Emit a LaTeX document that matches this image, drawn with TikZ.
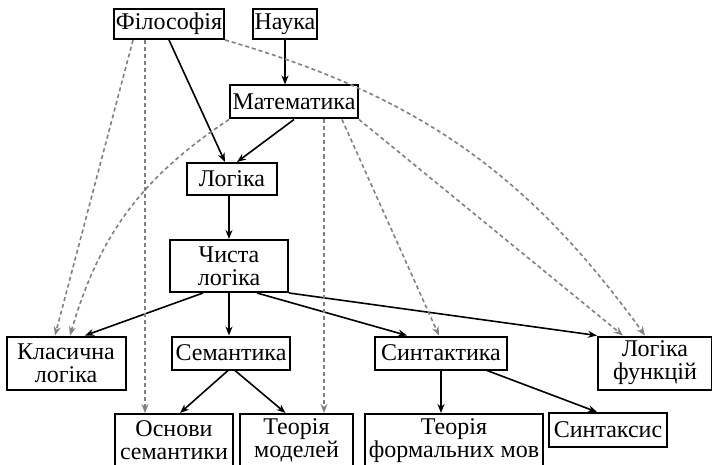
\documentclass[tikz,border=0pt]{standalone}
\usepackage{fontspec}
\setmainfont{Liberation Serif}
\usetikzlibrary{arrows.meta,calc}

\begin{document}
\begin{tikzpicture}[x=0.5pt, y=-0.5pt,
    box/.style={draw, line width=1pt, align=center, inner sep=1pt, minimum height=16.5pt},
    tall/.style={box, minimum height=26.5pt},
    link/.style={->, line width=0.8pt},
    hint/.style={->, gray, dash pattern=on 2pt off 1.5pt, line width=0.8pt},
    >={Stealth[length=4.5pt, width=3.5pt]}]
  \useasboundingbox (0,0) rectangle (712,465);
  \clip (0,0) rectangle (712,465);
  \fontsize{12}{11.5}\selectfont
  \node[box, minimum width=54pt, minimum height=15pt] (fil) at (169,24) {Філософія};
  \node[box, minimum width=28pt, minimum height=15pt] (nauka) at (285,24) {Наука};
  \node[box, minimum width=64pt] (mat) at (294,102) {Математика};
  \node[box, minimum width=45pt, minimum height=16pt] (log) at (232,179) {Логіка};
  \node[box, minimum width=59pt, minimum height=26pt] (chysta) at (229,266) {Чиста\\логіка};
  \node[tall, minimum width=59.5pt] (klas) at (66,363) {Класична\\логіка};
  \node[box, minimum width=59pt] (sem) at (231,353) {Семантика};
  \node[box, minimum width=66pt] (synt) at (441,353) {Синтактика};
  \node[tall, minimum width=57pt] (logf) at (655,363) {Логіка\\функцій};
  \node[tall, minimum width=59pt] (osn) at (174,440.5) {Основи\\семантики};
  \node[tall, minimum width=56.5pt] (teor) at (296.5,440.5) {Теорія\\моделей};
  \node[tall, minimum width=89pt] (tfm) at (454,440.5) {Теорія\\формальних мов};
  \node[box, minimum width=59pt, minimum height=17pt] (syntaks) at (608,430) {Синтаксис};

  \path[link] (nauka.south) edge (nauka.south |- mat.north);
  \path[link] (fil.south) edge ($(log.north)+(-7,0)$);
  \path[link] (mat.south) edge ($(log.north)+(5,0)$);
  \path[link] (chysta.north |- log.south) edge (chysta.north);
  \path[link] ($(chysta.south)+(-26,0)$) edge ($(klas.north)+(19,0)$);
  \path[link] (chysta.south) edge (chysta.south |- sem.north);
  \path[link] ($(chysta.south)+(28,0)$) edge ($(synt.north)+(-34,0)$);
  \path[link] (chysta.south east) edge (logf.north west);
  \path[link] ($(sem.south)+(-3,0)$) edge ($(osn.north)+(6,0)$);
  \path[link] ($(sem.south)+(4,0)$) edge ($(teor.north)+(-11,0)$);
  \path[link] (synt.south) edge (synt.south |- tfm.north);
  \path[link] ($(synt.south)+(46,0)$) edge ($(syntaks.north)+(-11,0)$);

  \path[hint] ($(fil.south)+(-36,0)$) edge ($(klas.north)+(-11,0)$);
  \path[hint] ($(fil.south)+(-24,0)$) edge ($(osn.north)+(-29,0)$);
  \path[hint] (fil.south east) edge[bend left=19] ($(logf.north)+(-10,0)$);
  \path[hint] (mat.south west) edge[bend right=20] ($(klas.north)+(4,0)$);
  \path[hint] ($(mat.south)+(30,0)$) edge ($(teor.north)+(27.5,0)$);
  \path[hint] ($(mat.south)+(48,0)$) edge ($(synt.north)+(-2,0)$);
  \path[hint] (mat.south east) edge ($(logf.north)+(-32,0)$);
\end{tikzpicture}
\end{document}
